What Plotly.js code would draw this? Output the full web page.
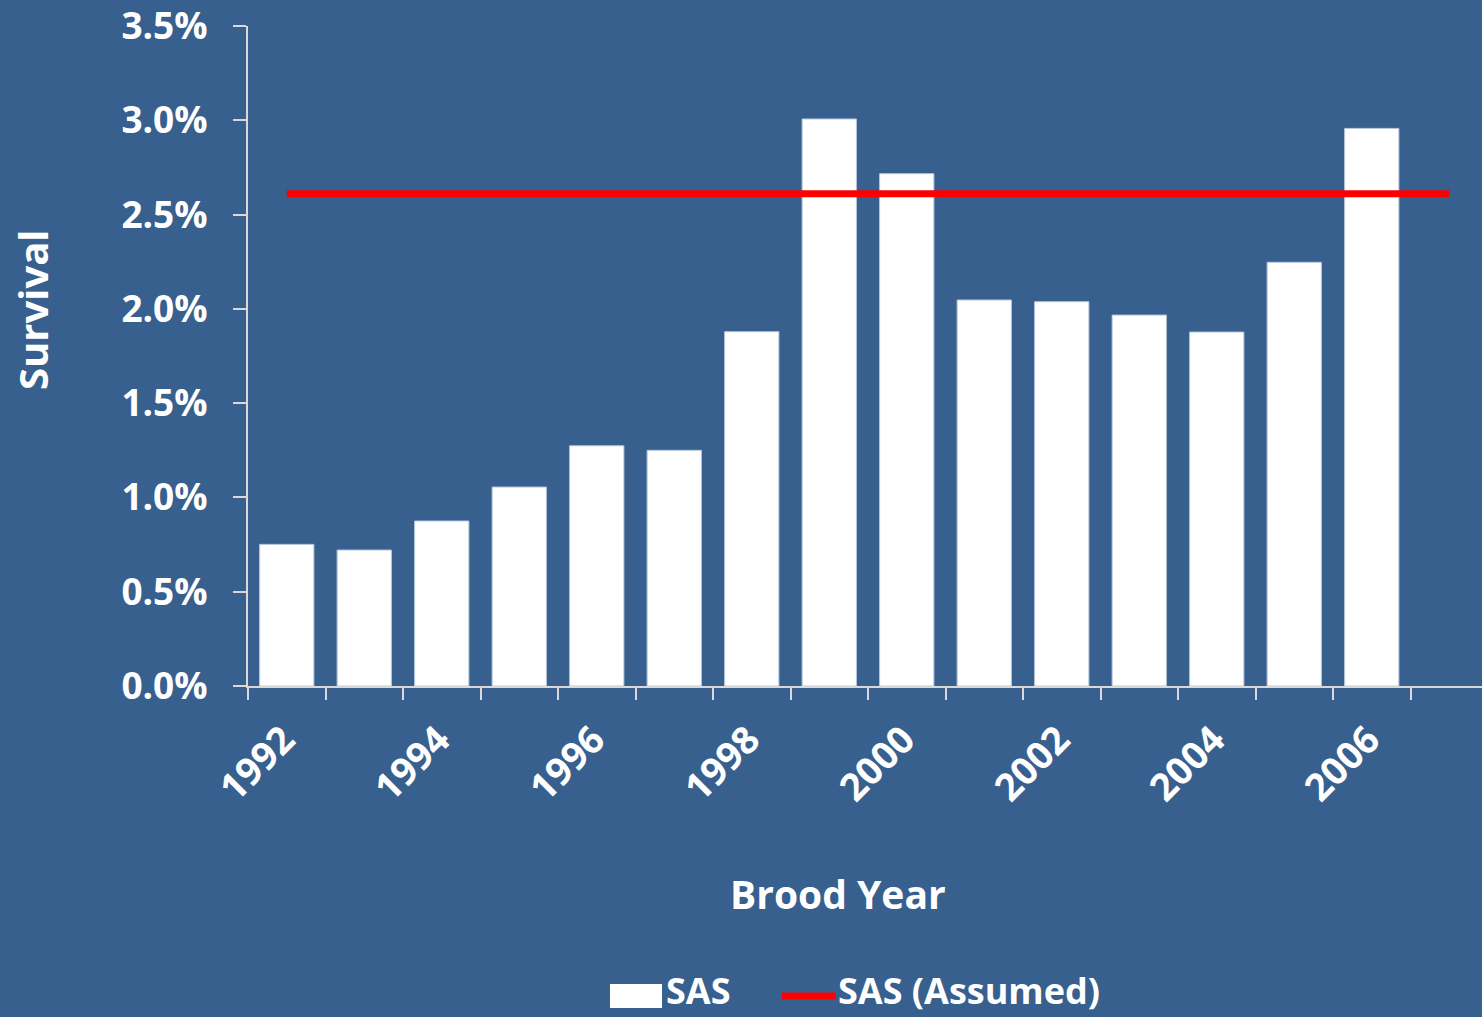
<!DOCTYPE html>
<html>
<head>
<meta charset="utf-8">
<script src="https://cdn.plot.ly/plotly-3.0.1.min.js"></script>
<style>
  html, body { margin: 0; padding: 0; background: #37608F; overflow: hidden; }
  #chart { width: 1482px; height: 1017px; }
</style>
</head>
<body>
<div id="chart"></div>
<script>
// ---- data ----
const broodYears = [1992, 1993, 1994, 1995, 1996, 1997, 1998, 1999, 2000, 2001, 2002, 2003, 2004, 2005, 2006];
const sasSurvival = [0.751, 0.721, 0.875, 1.055, 1.274, 1.250, 1.879, 3.007, 2.717, 2.047, 2.038, 1.967, 1.877, 2.247, 2.957];
const assumedYears = [1992, 2007];
const assumedSurvival = [2.611, 2.611];
const labelYears = [1992, 1994, 1996, 1998, 2000, 2002, 2004, 2006];
const yTicks = [0, 0.5, 1.0, 1.5, 2.0, 2.5, 3.0, 3.5];
const seriesNames = ['SAS', 'SAS (Assumed)'];
const xTitle = 'Brood Year';
const yTitle = 'Survival';

// ---- layout helpers ----
const W = 1482, H = 1017;
const M = { l: 248, r: 0, t: 26, b: 331 };
const PW = W - M.l - M.r, PH = H - M.t - M.b;
const px = x => (x - M.l) / PW;   // pixel -> paper x
const py = y => (H - M.b - y) / PH; // pixel -> paper y

const BG = '#37608F';
const AXIS = '#D9D9D9';
const FONT = 'Open Sans, Noto Sans, sans-serif';
const font = size => ({ family: FONT, size: size, color: '#FFFFFF', weight: 700 });

const traces = [
  {
    type: 'bar',
    x: broodYears,
    y: sasSurvival,
    name: seriesNames[0],
    width: 0.7,
    marker: { color: '#FFFFFF', line: { color: '#B8C8DC', width: 1 } },
    showlegend: false,
    hoverinfo: 'x+y'
  },
  {
    type: 'scatter',
    mode: 'lines',
    x: assumedYears,
    y: assumedSurvival,
    name: seriesNames[1],
    line: { color: '#FF0000', width: 7 },
    showlegend: false
  }
];

const layout = {
  width: W,
  height: H,
  margin: M,
  paper_bgcolor: BG,
  plot_bgcolor: BG,
  showlegend: false,
  font: font(36),
  xaxis: {
    type: 'linear',
    range: [1991.5, 1991.5 + PW / 77.5],
    tickmode: 'array',
    tickvals: labelYears,
    ticktext: labelYears.map(String),
    ticks: '',
    tickangle: -45,
    tickfont: font(38),
    ticklabelstandoff: 14,
    ticklabelshift: -3,
    ticklabeloverflow: 'allow',
    showgrid: false,
    zeroline: false,
    showline: true,
    linecolor: AXIS,
    linewidth: 2,
    minor: {
      ticks: 'outside',
      ticklen: 12,
      tickwidth: 2,
      tickcolor: AXIS,
      tick0: 1991.5,
      dtick: 1,
      showgrid: false
    },
    fixedrange: true
  },
  yaxis: {
    range: [0, 3.5001],
    tickmode: 'array',
    tickvals: yTicks,
    ticktext: yTicks.map(v => v.toFixed(1) + '%'),
    ticks: 'outside',
    ticklen: 13,
    tickwidth: 2,
    tickcolor: AXIS,
    ticklabelstandoff: 18,
    ticklabeloverflow: 'allow',
    tickfont: font(37),
    showgrid: false,
    zeroline: false,
    showline: true,
    linecolor: AXIS,
    linewidth: 2,
    fixedrange: true
  },
  shapes: [
    // legend swatch for bars
    { type: 'rect', xref: 'paper', yref: 'paper',
      x0: px(610), x1: px(662), y0: py(984), y1: py(1008),
      fillcolor: '#FFFFFF', line: { width: 0 } },
    // legend swatch for line
    { type: 'line', xref: 'paper', yref: 'paper',
      x0: px(782), x1: px(836), y0: py(996), y1: py(996),
      line: { color: '#FF0000', width: 7 } }
  ],
  annotations: [
    { text: xTitle, xref: 'paper', yref: 'paper', x: px(838), y: py(893),
      xanchor: 'center', yanchor: 'middle', showarrow: false,
      font: font(39) },
    { text: yTitle, xref: 'paper', yref: 'paper', x: px(32), y: py(309),
      xanchor: 'center', yanchor: 'middle', textangle: -90, showarrow: false,
      font: font(40) },
    { text: seriesNames[0], xref: 'paper', yref: 'paper', x: px(665), y: py(1016),
      xanchor: 'left', yanchor: 'bottom', borderpad: 0, showarrow: false,
      font: font(36) },
    { text: seriesNames[1], xref: 'paper', yref: 'paper', x: px(837), y: py(1016),
      xanchor: 'left', yanchor: 'bottom', borderpad: 0, showarrow: false,
      font: font(36) }
  ]
};

Plotly.newPlot('chart', traces, layout, { displayModeBar: false, staticPlot: true });
</script>
</body>
</html>
